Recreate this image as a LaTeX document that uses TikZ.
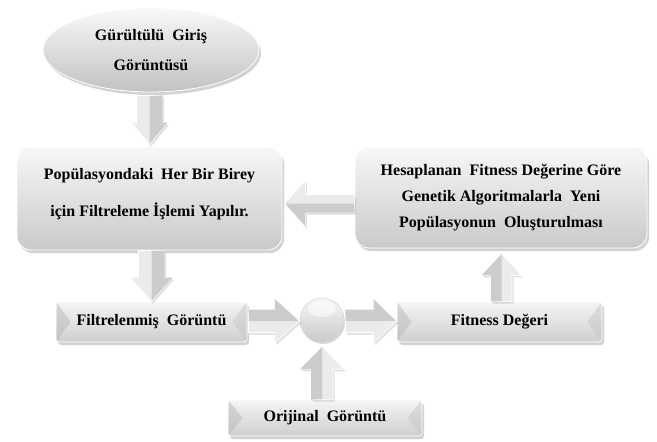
\documentclass[tikz,border=0pt]{standalone}
\usepackage{fontspec}
\setmainfont{Liberation Serif}
\usetikzlibrary{calc,shadows,shapes.geometric}

\tikzset{
  txt/.style={font=\bfseries\fontsize{16}{26}\selectfont, align=center, text=black},
  shad/.style={drop shadow={opacity=0.35, shadow xshift=2pt, shadow yshift=-3pt}},
  softbox/.style={txt, rectangle, rounded corners=14pt, inner sep=0pt,
    top color=gray!6, bottom color=gray!42, draw=white, line width=0.8pt, shad},
  bevelbox/.style={txt, rectangle, rounded corners=3pt, inner sep=0pt,
    top color=gray!8, bottom color=gray!38, draw=white, line width=0.8pt, shad},
  facetL/.style={fill=gray!55, fill opacity=0.5},
  facetR/.style={fill=gray!45, fill opacity=0.5},
  ovalbox/.style={txt, ellipse, inner sep=0pt, top color=gray!5, bottom color=gray!48,
    draw=white, line width=0.8pt, shad},
  ballnode/.style={circle, inner sep=0pt, minimum size=44pt, top color=gray!6, bottom color=gray!42,
    draw=gray!35, line width=0.5pt,
    drop shadow={opacity=0.3, shadow xshift=1pt, shadow yshift=-2pt}},
  glint/.style={fill=white, fill opacity=0.55},
  arrlight/.style={fill=gray!16, draw=white, line width=0.7pt,
    drop shadow={opacity=0.25, shadow xshift=1.5pt, shadow yshift=-2pt}},
  arrdark/.style={fill=gray!40},
}

% #1 from, #2 tip, #3 shaft half width, #4 head half width, #5 head length
\newcommand\blockarrow[5]{%
  \coordinate (ah) at ($(#2)!#5pt!(#1)$);
  \path[arrlight] ($(#1)!#3pt!90:(#2)$) -- ($(ah)!#3pt!90:(#2)$) -- ($(ah)!#4pt!90:(#2)$) -- (#2)
    -- ($(ah)!#4pt!-90:(#2)$) -- ($(ah)!#3pt!-90:(#2)$) -- ($(#1)!#3pt!-90:(#2)$) -- cycle;
  \path[arrdark] ($(#1)!0.6pt!(#2)$) -- ($(#1)!#3pt!90:(#2)$) -- ($(ah)!#3pt!90:(#2)$) -- ($(ah)!#4pt!90:(#2)$)
    -- ($(#2)!0.8pt!(#1)$) -- cycle;}

\begin{document}
\begin{tikzpicture}[x=1pt,y=-1pt]
\useasboundingbox[fill=white] (0,0) rectangle (657,442);

% nodes
\node[ovalbox, minimum width=216pt, minimum height=84pt] (ell) at (151,50)
  {G\"ur\"ult\"ul\"u\ \ Giri\c{s}\\[4pt] G\"or\"unt\"us\"u};
\node[softbox, minimum width=265pt, minimum height=103pt, text depth=13pt,
  font=\bfseries\fontsize{16}{37}\selectfont] (b1) at (149.5,198.5)
  {Pop\"ulasyondaki\ \ Her Bir Birey\\ i\c{c}in Filtreleme \.I\c{s}lemi Yap\i l\i r.};
\node[softbox, minimum width=292pt, minimum height=101pt] (b2) at (501,197.5)
  {Hesaplanan\ \ Fitness De\u{g}erine G\"ore\\ Genetik Algoritmalarla\ \ Yeni\\ Pop\"ulasyonun\ \ Olu\c{s}turulmas\i};

\node[bevelbox, minimum width=191pt, minimum height=40pt] (filt) at (151.5,322)
  {Filtrelenmi\c{s}\ \ G\"or\"unt\"u};
\node[ballnode] (circ) at (322,320) {};
\path[glint] ($(circ.center)+(0,-11)$) ellipse [x radius=14pt, y radius=8pt];
\node[bevelbox, minimum width=205pt, minimum height=40pt] (fit) at (499.5,322)
  {Fitness De\u{g}eri};
\node[bevelbox, minimum width=194pt, minimum height=36pt] (orj) at (325,418)
  {Orijinal\ \ G\"or\"unt\"u};

% bevel facets
\foreach \n in {filt,fit,orj}{
  \path[facetL] ($(\n.north west)+(1,1)$) -- ($(\n.west)+(15,0)$) -- ($(\n.south west)+(1,-1)$) -- cycle;
  \path[facetR] ($(\n.north east)+(-1,1)$) -- ($(\n.east)+(-15,0)$) -- ($(\n.south east)+(-1,-1)$) -- cycle;
}

% connector end points
\coordinate (a1s) at ($(ell.south -| b1.north)+(0,3)$);
\coordinate (a1e) at ($(b1.north)+(0,-2)$);
\coordinate (a2s) at (filt.north |- b1.south);
\coordinate (a2e) at (filt.north);
\coordinate (a3s) at ($(b2.west)+(0,6)$);
\coordinate (a3e) at ($(b1.east |- a3s)+(2,0)$);
\coordinate (a4s) at ($(filt.east)+(1,-1)$);
\coordinate (a4e) at (circ.west |- a4s);
\coordinate (a5s) at ($(circ.east)+(1,1)$);
\coordinate (a5e) at (fit.west |- a5s);
\coordinate (a6s) at (orj.north -| circ.south);
\coordinate (a6e) at ($(circ.south)+(0,4)$);
\coordinate (a7s) at ($(fit.north)+(2,0)$);
\coordinate (a7e) at ($(b2.south -| a7s)+(0,5)$);

% block arrows
\blockarrow{a1s}{a1e}{13}{18}{22}
\blockarrow{a2s}{a2e}{13}{21}{24}
\blockarrow{a3s}{a3e}{9}{23}{21}
\blockarrow{a4s}{a4e}{11.5}{22}{25}
\blockarrow{a5s}{a5e}{11.5}{22}{23}
\blockarrow{a6s}{a6e}{11}{22}{23}
\blockarrow{a7s}{a7e}{10.5}{20}{22}
\end{tikzpicture}
\end{document}
